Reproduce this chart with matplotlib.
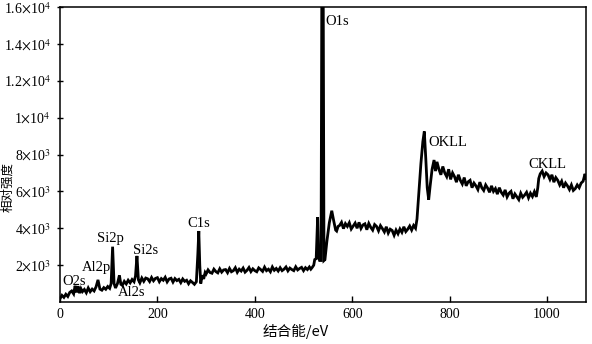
import matplotlib
matplotlib.use("Agg")
import matplotlib.pyplot as plt

# XPS survey spectrum
energy = [
    0, 4, 8, 12, 16, 20, 24, 28, 31, 34, 37, 40, 43, 46, 50, 54, 58, 62, 66, 70,
    74, 78, 82, 86, 90, 94, 98, 102, 105, 108, 111, 114, 118, 122, 125, 128, 132, 136, 140, 144,
    148, 152, 155, 158, 161, 164, 168, 172, 176, 180, 184, 188, 192, 196, 200, 204, 208, 212, 216, 220,
    224, 228, 232, 236, 240, 244, 248, 252, 256, 260, 264, 268, 272, 276, 280, 283, 285, 287, 289, 292,
    295, 298, 300, 304, 308, 312, 316, 320, 324, 328, 332, 336, 340, 344, 348, 352, 356, 360, 364, 368,
    372, 376, 380, 384, 388, 392, 396, 400, 404, 408, 412, 416, 420, 424, 428, 432, 436, 440, 444, 448,
    452, 456, 460, 464, 468, 472, 476, 480, 484, 488, 492, 496, 500, 504, 508, 512, 515, 518, 521, 523,
    526, 529, 531, 533, 536, 537.5, 540.5, 542, 544, 548, 553, 558, 562, 566, 568, 571, 574, 578, 582, 586,
    590, 594, 598, 602, 606, 610, 614, 618, 622, 626, 630, 634, 638, 642, 646, 650, 654, 658, 662, 666,
    670, 674, 678, 682, 686, 690, 694, 698, 702, 706, 710, 714, 718, 722, 726, 730, 733, 737, 741, 745,
    748, 751, 754, 757, 760, 764, 768, 771, 774, 778, 782, 786, 790, 794, 798, 802, 806, 810, 814, 818,
    822, 826, 830, 834, 838, 842, 846, 850, 854, 858, 862, 866, 870, 874, 878, 882, 886, 890, 894, 898,
    902, 906, 910, 914, 918, 922, 926, 930, 934, 938, 942, 946, 950, 954, 958, 962, 966, 970, 974, 978,
    981, 983, 986, 990, 994, 998, 1002, 1006, 1010, 1014, 1018, 1022, 1026, 1030, 1034, 1038, 1042, 1046, 1050, 1054,
    1058, 1062, 1066, 1070, 1074, 1078, 1080,
]
counts = [
    180, 360, 250, 420, 300, 520, 600, 440, 880, 520, 860, 480, 720, 560, 680, 500, 760, 560, 700, 600,
    820, 1200, 700, 640, 780, 690, 840, 740, 1000, 3000, 1000, 760, 1000, 1450, 960, 900, 1120, 980, 1180, 1040,
    1220, 1100, 1400, 2500, 1200, 1040, 1300, 1120, 1300, 1260, 1110, 1330, 1150, 1280, 1320, 1100, 1270, 1180, 1340, 1090,
    1250, 1290, 1080, 1270, 1160, 1230, 1050, 1250, 1120, 1180, 990, 1150, 1060, 960, 1100, 2600, 3850, 2000, 1000, 1450,
    1250, 1600, 1520, 1740, 1600, 1560, 1780, 1650, 1580, 1800, 1620, 1740, 1760, 1590, 1820, 1640, 1700, 1860, 1610, 1780,
    1680, 1840, 1620, 1720, 1870, 1650, 1800, 1700, 1640, 1850, 1760, 1660, 1890, 1700, 1780, 1640, 1900, 1720, 1820, 1680,
    1860, 1700, 1780, 1900, 1690, 1840, 1760, 1700, 1910, 1740, 1820, 1880, 1700, 1860, 1760, 1900, 1780, 1880, 2000, 2300,
    2350, 4600, 2400, 2250, 2250, 16300, 16300, 2250, 2300, 3300, 4300, 4950, 4400, 3900, 3850, 4100, 4150, 4320, 3980, 4250,
    4100, 4300, 3960, 4120, 4280, 4000, 4320, 3990, 4180, 4240, 3920, 4260, 4050, 3900, 4200, 4100, 3860, 4140, 3980, 3800,
    4080, 3740, 3950, 3880, 3620, 3900, 3700, 3960, 3780, 4080, 3820, 3950, 4120, 3900, 4150, 4000, 4500, 6000, 7500, 8700,
    9250, 7800, 6200, 5550, 6300, 7200, 7700, 7100, 7600, 7200, 6900, 7350, 7000, 6800, 7200, 6650, 7000, 6800, 6500, 6900,
    6600, 6400, 6750, 6300, 6520, 6600, 6200, 6450, 6300, 6100, 6500, 6200, 6050, 6350, 6180, 5950, 6300, 6000, 6150, 5850,
    6200, 5950, 5800, 6080, 5700, 5900, 6000, 5600, 5860, 5700, 5550, 5900, 5680, 5800, 5950, 5650, 5900, 5720, 5980, 5700,
    6200, 6700, 6950, 7100, 6800, 7000, 6900, 6650, 6900, 6500, 6750, 6600, 6350, 6550, 6200, 6450, 6300, 6100, 6350, 6050,
    6150, 6350, 6200, 6450, 6550, 6950, 6700,
]

# peak labels: text, x (eV), y (counts)
label_text = ["O2s", "Al2p", "Si2p", "Al2s", "Si2s", "C1s", "O1s", "OKLL", "CKLL"]
label_x = [4, 45, 76, 118, 150, 262, 545, 757, 962]
label_y = [1100, 1850, 3450, 500, 2800, 4250, 15200, 8650, 7450]

x_ticks = [0, 200, 400, 600, 800, 1000]
y_ticks = [2000, 4000, 6000, 8000, 10000, 12000, 14000, 16000]
y_tick_labels = [r"2$\times$10$^3$", r"4$\times$10$^3$", r"6$\times$10$^3$", r"8$\times$10$^3$",
                 r"1$\times$10$^4$", r"1.2$\times$10$^4$", r"1.4$\times$10$^4$", r"1.6$\times$10$^4$"]

plt.rcParams["font.family"] = ["Liberation Serif", "DejaVu Serif"]
plt.rcParams["mathtext.fontset"] = "stix"

fig = plt.figure(figsize=(5.92, 3.44), dpi=100)
ax = fig.add_axes([60 / 592, 1 - 302 / 344, 526 / 592, 295 / 344])

ax.plot(energy, counts, color="black", linewidth=2.0, solid_joinstyle="miter")

for t, xx, yy in zip(label_text, label_x, label_y):
    ax.text(xx, yy, t, fontsize=10.5, ha="left", va="center")

ax.set_xlim(0, 1080)
ax.set_ylim(0, 16000)
ax.set_xticks(x_ticks)
ax.set_yticks(y_ticks)
ax.set_yticklabels(y_tick_labels)
ax.tick_params(direction="in", length=4, width=1, labelsize=10, pad=4)
ax.tick_params(axis="y", direction="inout", length=5)
for s in ax.spines.values():
    s.set_linewidth(1.1)

fig.text(0.5, 1 - 331 / 344, "结合能/eV", ha="center", va="center", fontsize=10.5,
         family=["Noto Sans CJK SC", "DejaVu Sans"])
fig.text(8 / 592, 1 - 187 / 344, "相对强度", ha="center", va="center", rotation=90,
         fontsize=9, family=["Noto Sans CJK SC", "DejaVu Sans"])

fig.savefig("out.png", dpi=100)
